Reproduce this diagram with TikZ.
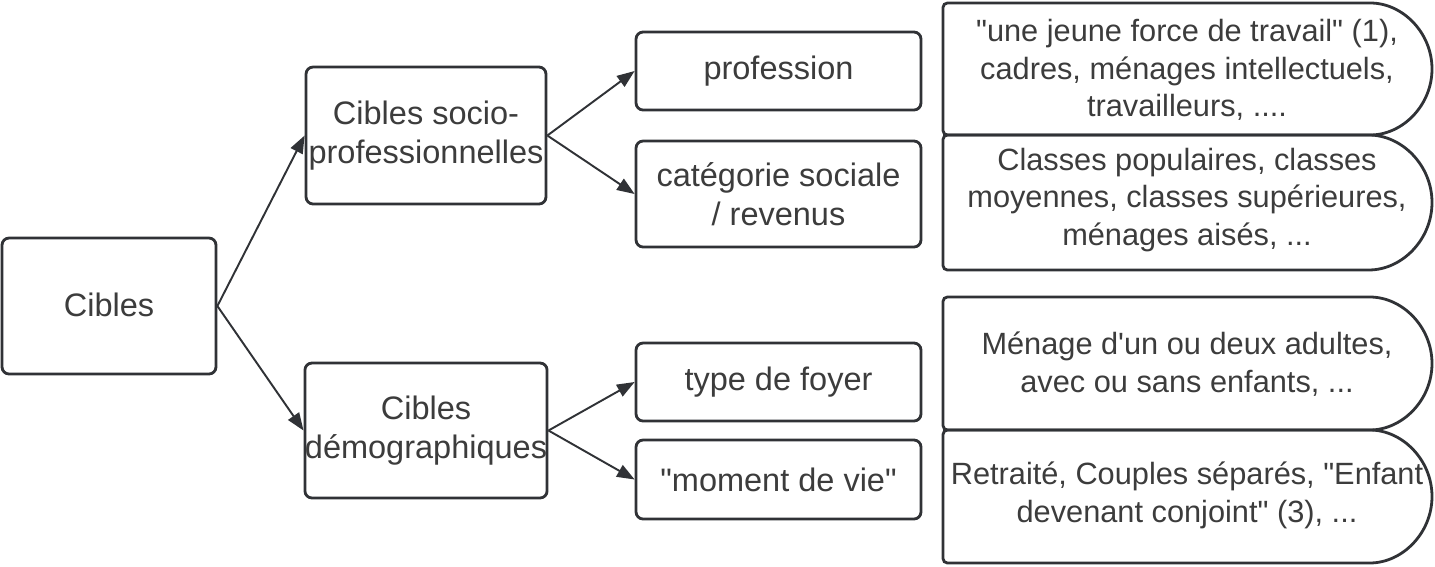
\documentclass[tikz,border=0pt]{standalone}
\usepackage{fontspec}
\setmainfont{Liberation Sans}
\usetikzlibrary{arrows.meta}
\definecolor{ink}{HTML}{303236}
\definecolor{txt}{HTML}{3C3C3C}
\begin{document}
\begin{tikzpicture}[x=0.02cm,y=-0.02cm,
  box/.style={draw=ink, line width=1.6pt, rounded corners=4pt, fill=white, align=center,
    text=txt, font=\fontsize{18.5}{22}\selectfont, inner sep=0pt},
  conn/.style={draw=ink, line width=1.1pt, -{Triangle[length=10pt,width=7.5pt]}},
  tag/.style={draw=ink, line width=1.6pt, rounded corners=2.5pt},
  tagtext/.style={align=center, text=txt, font=\fontsize{17.5}{21.5}\selectfont, inner sep=0pt}]
\useasboundingbox (0,0) rectangle (1435,566);

\node[box, minimum width=4.28cm, minimum height=2.72cm] (cib) at (109,306) {\raisebox{2pt}{Cibles}};
\node[box, minimum width=4.8cm, minimum height=2.74cm] (soc) at (426,135.5) {Cibles socio-\\professionnelles};
\node[box, minimum width=4.8cm, minimum height=2.7cm] (dem) at (426,430.5) {Cibles\\démographiques};
\node[box, minimum width=5.7cm, minimum height=1.56cm] (pro) at (778.5,71) {profession};
\node[box, minimum width=5.7cm, minimum height=2.12cm] (cat) at (778.5,194) {catégorie sociale\\/ revenus};
\node[box, minimum width=5.7cm, minimum height=1.56cm] (foy) at (778.5,382) {type de foyer};
\node[box, minimum width=5.7cm, minimum height=1.58cm] (mom) at (778.5,479.5) {\textquotedbl moment de vie\textquotedbl};

\draw[conn] (cib.east) -- (soc.west);
\draw[conn] (cib.east) -- (dem.west);
\draw[conn] (soc.east) -- (pro.west);
\draw[conn] (soc.east) -- (cat.west);
\draw[conn] (dem.east) -- (foy.west);
\draw[conn] (dem.east) -- (mom.west);

\draw[tag] (943,135) -- (943,3) -- (1366,3) arc[start angle=90,end angle=-90,radius=1.32cm] -- cycle;
\draw[tag] (943,270) -- (943,135) -- (1364.5,135) arc[start angle=90,end angle=-90,radius=1.35cm] -- cycle;
\draw[tag] (943,430) -- (943,297) -- (1365.5,297) arc[start angle=90,end angle=-90,radius=1.33cm] -- cycle;
\draw[tag] (943,563) -- (943,430) -- (1365.5,430) arc[start angle=90,end angle=-90,radius=1.33cm] -- cycle;

\node[tagtext] (t1) at (1187,70) {\textquotedbl une jeune force de travail\textquotedbl{} (1),\\cadres, ménages intellectuels,\\travailleurs, ....};
\node[tagtext] (t2) at (1187,200) {Classes populaires, classes\\moyennes, classes supérieures,\\ménages aisés, ...};
\node[tagtext] (t3) at (1187,364) {Ménage d\textquotesingle un ou deux adultes,\\avec ou sans enfants, ...};
\node[tagtext] (t4) at (1187,495) {Retraité, Couples séparés, \textquotedbl Enfant\\devenant conjoint\textquotedbl{} (3), ...};
\end{tikzpicture}
\end{document}
